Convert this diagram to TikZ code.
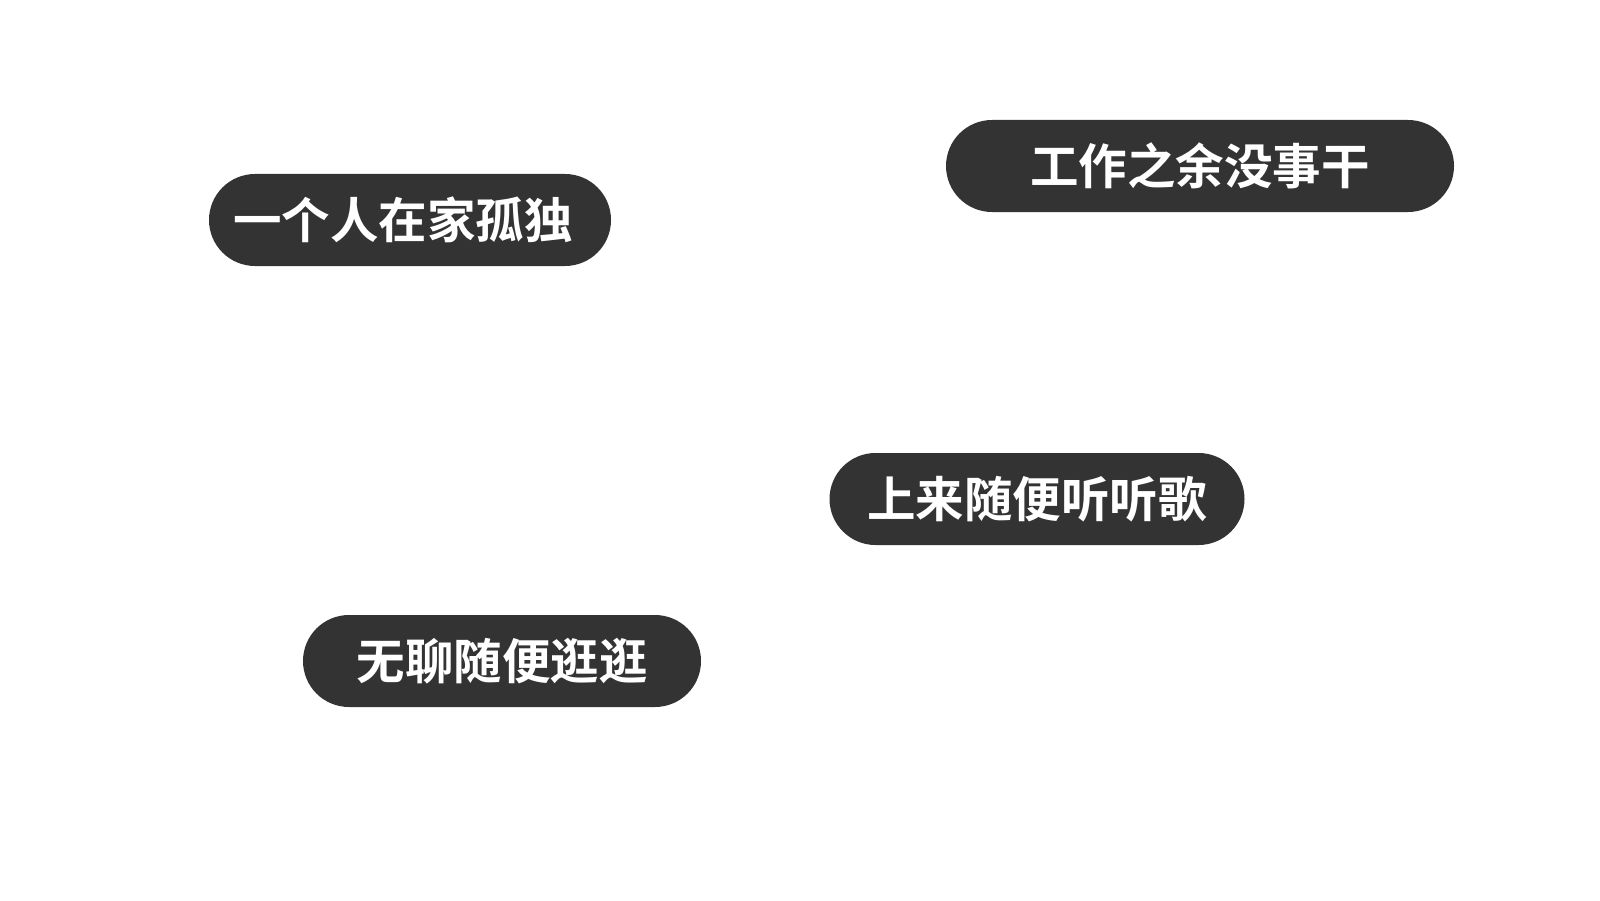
\documentclass[tikz,border=0pt]{standalone}
\usepackage{fontspec}
\newfontfamily\cjk{Noto Sans CJK SC Bold}
\definecolor{pilldark}{HTML}{333333}

\begin{document}
\begin{tikzpicture}[pill/.style={rectangle, fill=pilldark, rounded corners=4.6mm,
	minimum height=9.2mm, inner sep=0pt, text=white,
	font=\cjk\fontsize{13.8}{16}\selectfont}]

\useasboundingbox (0,0) rectangle (16,9);

\node[pill,minimum width=40.2mm] (lonely) at (4.10,6.80) {一个人在家孤独\hspace*{1.4mm}};
\node[pill,minimum width=50.8mm] (spare) at (12.00,7.34) {工作之余没事干};
\node[pill,minimum width=41.5mm] (music) at (10.37,4.01) {上来随便听听歌};
\node[pill,minimum width=39.8mm] (stroll) at (5.02,2.39) {无聊随便逛逛};
\end{tikzpicture}
\end{document}
